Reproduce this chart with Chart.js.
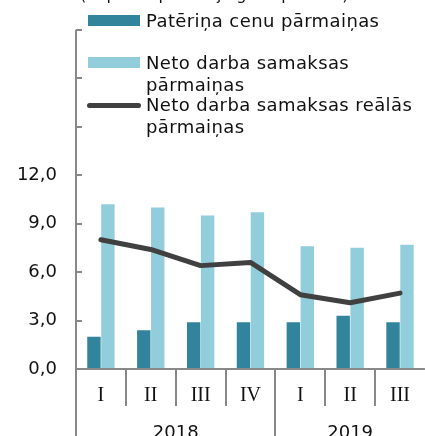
<!DOCTYPE html>
<html>
<head>
<meta charset="utf-8">
<script src="https://cdn.jsdelivr.net/npm/chart.js@4.4.0/dist/chart.umd.min.js"></script>
<style>
  html, body { margin: 0; padding: 0; background: #fff; }
  #wrap { position: relative; width: 425px; height: 436px; overflow: hidden; }
  canvas { position: absolute; left: 0; top: 0; }
  .lg-text { position: absolute; left: 146px; font-family: "DejaVu Sans", sans-serif; font-size: 18px; letter-spacing: 0.4px; line-height: 22px; color: #111; white-space: nowrap; }
  .lg-box { position: absolute; left: 88px; width: 52px; height: 11px; }
  .lg-line { position: absolute; left: 87px; width: 54px; height: 5px; border-radius: 3px; background: #404040; }
</style>
</head>
<body>
<div id="wrap">
  <canvas id="chart" width="425" height="436"></canvas>
  <div class="lg-box" style="top:15px;background:#31849b"></div>
  <div class="lg-text" style="top:10px">Patēriņa cenu pārmaiņas</div>
  <div class="lg-box" style="top:57px;background:#92cddc"></div>
  <div class="lg-text" style="top:52px">Neto darba samaksas<br>pārmaiņas</div>
  <div class="lg-line" style="top:103px"></div>
  <div class="lg-text" style="top:94px">Neto darba samaksas reālās<br>pārmaiņas</div>
</div>
<script>
// Data
const quarters = ['I', 'II', 'III', 'IV', 'I', 'II', 'III'];
const years = ['2018', '2019'];
const quartersPerYear = [4, 3];
const consumerPrices = [2.0, 2.4, 2.9, 2.9, 2.9, 3.3, 2.9];
const netWages = [10.2, 10.0, 9.5, 9.7, 7.6, 7.5, 7.7];
const realNetWages = [8.0, 7.4, 6.4, 6.6, 4.6, 4.1, 4.7];
const yMax = 21;
const yStep = 3;
const yLabelMax = 12;
const title = '(% pret iepriekšējā gada periodu)';

const axisColor = '#888888';
const textColor = '#111111';

// Axis lines, separators, year labels and the clipped title
const axisLines = {
    id: 'axisLines',
    afterDraw(chart) {
        const { ctx, chartArea: a, scales: { x, y } } = chart;
        ctx.save();
        ctx.strokeStyle = axisColor;
        ctx.lineWidth = 2;
        ctx.beginPath();
        ctx.moveTo(a.left, a.top);
        ctx.lineTo(a.left, chart.height);
        y.ticks.forEach(t => {
            const py = Math.round(y.getPixelForValue(t.value));
            ctx.moveTo(a.left, py);
            ctx.lineTo(a.left + 6, py);
        });
        ctx.moveTo(a.left, a.bottom);
        ctx.lineTo(a.right, a.bottom);

        const yearStarts = [];
        let n = 0;
        quartersPerYear.forEach(c => { yearStarts.push(n); n += c; });
        for (let i = 1; i < quarters.length; i++) {
            const px = Math.round((x.getPixelForValue(i - 1) + x.getPixelForValue(i)) / 2);
            ctx.moveTo(px, a.bottom);
            ctx.lineTo(px, yearStarts.includes(i) ? chart.height : a.bottom + 37);
        }
        ctx.stroke();

        // year labels
        const half = (x.getPixelForValue(1) - x.getPixelForValue(0)) / 2;
        ctx.fillStyle = textColor;
        ctx.font = '18px "DejaVu Sans"';
        ctx.textAlign = 'center';
        ctx.textBaseline = 'alphabetic';
        years.forEach((yr, k) => {
            const s = yearStarts[k], e = s + quartersPerYear[k] - 1;
            const cx = (x.getPixelForValue(s) - half + x.getPixelForValue(e) + half) / 2;
            ctx.fillText(yr, cx, a.bottom + 69);
        });

        // title, mostly above the visible area
        ctx.font = '16px "DejaVu Sans"';
        ctx.textAlign = 'left';
        ctx.fillText(title, 80, 0);
        ctx.restore();
    }
};

new Chart(document.getElementById('chart'), {
    data: {
        labels: quarters,
        datasets: [
            {
                type: 'line',
                label: 'Neto darba samaksas reālās pārmaiņas',
                data: realNetWages,
                borderColor: '#404040',
                borderWidth: 5,
                borderCapStyle: 'round',
                borderJoinStyle: 'round',
                pointRadius: 0,
                tension: 0,
                order: 0
            },
            {
                type: 'bar',
                label: 'Patēriņa cenu pārmaiņas',
                data: consumerPrices,
                backgroundColor: '#31849b',
                categoryPercentage: 0.56,
                barPercentage: 0.96,
                order: 1
            },
            {
                type: 'bar',
                label: 'Neto darba samaksas pārmaiņas',
                data: netWages,
                backgroundColor: '#92cddc',
                categoryPercentage: 0.56,
                barPercentage: 0.96,
                order: 1
            }
        ]
    },
    options: {
        responsive: false,
        animation: false,
        layout: { padding: { top: 27, right: 0, left: 0, bottom: 0 } },
        plugins: { legend: { display: false }, tooltip: { enabled: false } },
        scales: {
            x: {
                offset: true,
                grid: { display: false, drawTicks: false },
                border: { display: false },
                ticks: {
                    font: { family: 'Liberation Serif', size: 20 },
                    color: textColor,
                    padding: 15,
                    maxRotation: 0,
                    autoSkip: false
                },
                afterFit: s => { s.height = 67; }
            },
            y: {
                min: 0,
                max: yMax,
                grid: { display: false, drawTicks: false },
                border: { display: false },
                ticks: {
                    stepSize: yStep,
                    font: { family: 'DejaVu Sans', size: 18 },
                    color: textColor,
                    padding: 19,
                    callback: v => v <= yLabelMax ? v.toFixed(1).replace('.', ',') : ''
                },
                afterFit: s => { s.width = 76; }
            }
        }
    },
    plugins: [axisLines]
});
</script>
</body>
</html>
